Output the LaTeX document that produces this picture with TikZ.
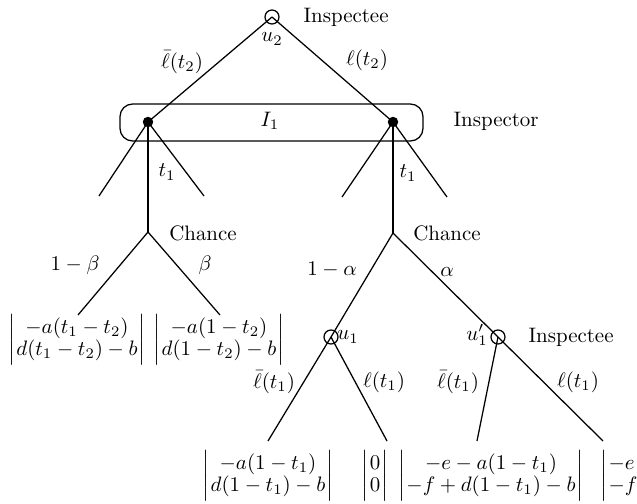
\documentclass[tikz,border=0pt]{standalone}
\usetikzlibrary{calc}
\newcommand{\payoff}[2]{$\left|\begin{array}{@{\kern0.5pt}c@{\kern0.5pt}}#1\\#2\end{array}\right|$}
\renewcommand{\arraystretch}{0.9}
\begin{document}
\begin{tikzpicture}[x=0.478pt, y=-0.478pt, line width=0.6pt,
    player/.style={circle, draw, inner sep=0pt, minimum size=6.7pt},
    decision/.style={circle, fill, inner sep=0pt, minimum size=5pt},
    lbl/.style={inner sep=0pt},
    pay/.style={inner sep=0pt}
]
    \useasboundingbox (0,0) rectangle (637,504);

    \node[player] (u2) at (272,17) {};
    \node[decision] (l) at (148,122) {};
    \node[decision] (r) at (393,122) {};
    \coordinate (cl) at (148,232);
    \coordinate (cr) at (393,233);
    \node[player] (u1) at (331,337) {};
    \node[player] (u1p) at (498,337) {};

    \coordinate (la) at (99,196);
    \coordinate (lb) at (204,196);
    \coordinate (ra) at (342,197);
    \coordinate (rb) at (447,197);
    \coordinate (e1) at (78,315);
    \coordinate (e2) at (220,315);
    \coordinate (e3) at (268,441);
    \coordinate (e4) at (387,441);
    \coordinate (e5) at (477,441);
    \coordinate (e6) at (603,441);

    \foreach \a/\b in {u2/l, u2/r, l/la, l/lb, l/cl, r/ra, r/rb, r/cr,
                       cl/e1, cl/e2, cr/u1, cr/u1p, u1/e3, u1/e4, u1p/e5, u1p/e6}
        \draw (\a.center) -- (\b.center);

    \draw[rounded corners=6pt] ($(l)+(-28,-18)$) rectangle ($(r)+(30,19)$);

    \node[lbl, anchor=west] at (303,17) {Inspectee};
    \node[lbl] at (272,39) {$u_2$};
    \node[lbl] at (182,62) {$\bar\ell(t_2)$};
    \node[lbl] at (367,60) {$\ell(t_2)$};
    \node[lbl] at (270,121) {$I_1$};
    \node[lbl, anchor=west] at (453,121) {Inspector};
    \node[lbl] at (167,172) {$t_1$};
    \node[lbl] at (408,173) {$t_1$};
    \node[lbl] at (203,233) {Chance};
    \node[lbl] at (447,233) {Chance};
    \node[lbl] at (75,265) {$1-\beta$};
    \node[lbl] at (205,265) {$\beta$};
    \node[lbl] at (332,270) {$1-\alpha$};
    \node[lbl] at (447,272) {$\alpha$};
    \node[lbl] at (348,337) {$u_1$};
    \node[lbl] at (477,335) {$u_1'$};
    \node[lbl, anchor=west] at (528,337) {Inspectee};
    \node[lbl] at (274,382) {$\bar\ell(t_1)$};
    \node[lbl] at (384,382) {$\ell(t_1)$};
    \node[lbl] at (458,382) {$\bar\ell(t_1)$};
    \node[lbl] at (578,382) {$\ell(t_1)$};

    \node[pay] (p1) at (77,340) {\payoff{-a(t_1-t_2)}{d(t_1-t_2)-b}};
    \node[pay] (p2) at (219,340) {\payoff{-a(1-t_2)}{d(1-t_2)-b}};
    \node[pay] (p3) at (268,476) {\payoff{-a(1-t_1)}{d(1-t_1)-b}};
    \node[pay] (p4) at (375,476) {\payoff{0}{0}};
    \node[pay] (p5) at (491,476) {\payoff{-e-a(1-t_1)}{-f+d(1-t_1)-b}};
    \node[pay, anchor=west] (p6) at (600,476) {$\left|\begin{array}{@{\kern0.5pt}l@{}}-e\\-f\end{array}\right.$};
\end{tikzpicture}
\end{document}
